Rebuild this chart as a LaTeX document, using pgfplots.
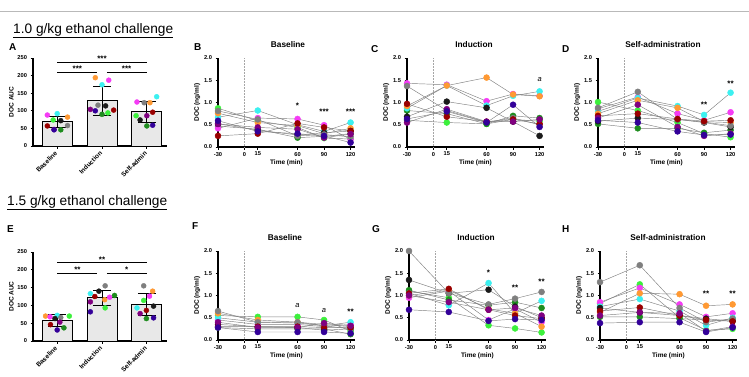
\documentclass[border=0pt]{standalone}
\usepackage{pgfplots}
\pgfplotsset{compat=1.18}
\usepackage{pgfplotstable}
\usepackage{fontspec}
\setmainfont{Liberation Sans}
\setsansfont{Liberation Sans}

\definecolor{cL}{HTML}{3CF03C}
\definecolor{cG}{HTML}{1E8C1E}
\definecolor{cM}{HTML}{F53CF5}
\definecolor{cC}{HTML}{3CF0F0}
\definecolor{cO}{HTML}{FF9933}
\definecolor{cK}{HTML}{1A1A1A}
\definecolor{cY}{HTML}{7F7F7F}
\definecolor{cR}{HTML}{990000}
\definecolor{cP}{HTML}{800080}
\definecolor{cI}{HTML}{330099}

\pgfplotstableread{
t   L    G    M    C    O    K    Y    R    P    I
-30 0.87 0.47 0.42 0.67 0.76 0.52 0.81 0.25 0.52 0.59
15  0.59 0.40 0.65 0.82 0.55 0.38 0.62 0.30 0.44 0.35
60  0.44 0.21 0.63 0.50 0.48 0.27 0.25 0.53 0.40 0.30
90  0.20 0.24 0.49 0.35 0.30 0.32 0.28 0.44 0.21 0.25
120 0.18 0.30 0.17 0.55 0.42 0.36 0.23 0.36 0.29 0.10
}\tB
\pgfplotstableread{
t   L    G    M    C    O    K    Y    R    P    I
-30 0.60 0.82 1.43 0.87 0.92 0.68 1.37 0.97 0.55 0.63
15  0.55 0.75 1.40 1.38 1.38 1.02 0.82 0.68 0.85 0.80
60  0.52 0.52 1.03 0.93 1.56 0.88 0.56 0.57 0.57 0.55
90  0.62 0.70 1.19 1.15 1.18 0.57 0.65 0.62 0.57 0.95
120 0.58 0.65 1.15 1.25 1.14 0.25 0.50 0.52 0.62 0.45
}\tC
\pgfplotstableread{
t   L    G    M    C    O    K    Y    R    P    I
-30 1.01 0.52 0.86 0.80 0.75 0.58 0.88 0.70 0.65 0.60
15  0.82 0.42 1.12 1.10 1.05 0.65 1.24 0.75 0.95 0.55
60  0.55 0.42 0.75 0.92 0.88 0.62 0.62 0.63 0.45 0.35
90  0.30 0.32 0.60 0.72 0.57 0.55 0.56 0.58 0.25 0.27
120 0.22 0.38 0.78 1.22 0.55 0.45 0.48 0.60 0.30 0.28
}\tD
\pgfplotstableread{
t   L    G    M    C    O    K    Y    R    P    I
-30 0.55 0.28 0.45 0.50 0.60 0.35 0.65 0.30 0.40 0.28
15  0.52 0.25 0.35 0.40 0.45 0.30 0.40 0.30 0.28 0.18
60  0.52 0.25 0.35 0.38 0.40 0.28 0.40 0.30 0.28 0.18
90  0.45 0.25 0.30 0.32 0.35 0.22 0.32 0.28 0.38 0.18
120 0.20 0.13 0.35 0.40 0.30 0.25 0.25 0.28 0.32 0.15
}\tF
\pgfplotstableread{
t   L    G    M    C    O    K    Y    R    P    I
-30 1.10 1.12 0.95 1.05 1.00 1.35 2.00 1.05 1.00 0.68
15  0.95 0.90 1.10 0.78 1.12 1.05 1.05 1.15 0.85 0.63
60  0.33 0.78 0.45 1.28 0.70 1.13 0.80 0.68 0.68 0.43
90  0.26 0.85 0.70 0.60 0.60 0.75 0.93 0.55 0.72 0.47
120 0.17 0.72 0.40 0.88 0.30 0.50 1.08 0.48 0.55 0.45
}\tG
\pgfplotstableread{
t   L    G    M    C    O    K    Y    R    P    I
-30 0.82 0.52 0.85 0.75 0.62 0.72 1.30 0.65 0.55 0.38
15  1.25 0.52 1.17 0.92 1.05 0.62 1.68 0.73 0.62 0.40
60  0.50 0.48 0.80 0.65 1.03 0.55 0.72 0.55 0.60 0.40
90  0.22 0.45 0.52 0.33 0.77 0.48 0.40 0.45 0.20 0.18
120 0.25 0.45 0.60 0.50 0.80 0.42 0.48 0.42 0.30 0.28
}\tH

\pgfplotsset{
  common/.style={scale only axis, anchor=south west, clip=false,
    axis lines=left, axis line style={-, line width=1.1pt, black},
    tick align=outside, major tick length=2.5pt,
    tick style={line width=0.9pt, black},
    ticklabel style={font=\bfseries\fontsize{5.7}{6}\selectfont},
    /pgf/number format/assume math mode=true,
    label style={font=\bfseries\fontsize{6.5}{7}\selectfont}},
  lineax/.style={common, width=137pt, height=89pt,
    xmin=-30, xmax=125, ymin=0, ymax=2,
    xtick={-30,0,15,60,90,120}, ytick={0,0.5,1,1.5,2},
    yticklabel style={/pgf/number format/.cd, fixed, fixed zerofill, precision=1},
    xticklabel style={yshift=1pt},
    xlabel={Time (min)}, ylabel={DOC (ng/ml)},
    xlabel style={yshift=3pt}, ylabel style={yshift=-3pt}},
  barax/.style={common, width=134pt, height=88pt,
    xmin=-0.54, xmax=2.45, ymin=0, ymax=250,
    ytick={0,50,...,250}, xtick={0,1,2},
    xticklabels={Baseline,Induction,Self-admin},
    xticklabel style={rotate=45, anchor=east, yshift=-2pt, font=\bfseries\fontsize{6.5}{7}\selectfont},
    ylabel={DOC AUC}, ylabel style={yshift=-3pt}},
  ser/.style={gray, line width=0.45pt, mark=*, mark size=3pt,
    mark options={fill=#1, draw=#1}},
  dot/.style={only marks, mark=*, mark size=2.5pt, mark options={fill=#1, draw=#1}},
}

\newcommand\linepanel[4]{%
  \begin{axis}[lineax, at={(#1pt,#2pt)}]
    \draw[densely dotted, gray!70, line width=0.5pt] (axis cs:0,0) -- (axis cs:0,2);
    \pgfplotsinvokeforeach{L,G,M,C,O,K,Y,R,P,I}{\addplot[ser=c##1] table[x=t,y=##1]{#3};}
    #4
  \end{axis}}

\tikzset{ttl/.style={font=\bfseries\fontsize{8.3}{9}\selectfont},
  lett/.style={font=\bfseries\fontsize{10}{11}\selectfont, anchor=north west, inner sep=0pt},
  head/.style={font=\fontsize{13.7}{15}\selectfont, anchor=base west, inner sep=0pt},
  ann/.style={font=\bfseries\fontsize{8}{8}\selectfont},
  anna/.style={font=\itshape\fontsize{7.5}{8}\selectfont}}

\begin{document}
\begin{tikzpicture}[x=1pt,y=1pt]
\path[use as bounding box] (0,0) rectangle (749,376);
\draw[gray!55, line width=0.8pt] (0,365) -- (749,365);

\node[head] at (13,343) {\underline{1.0 g/kg ethanol challenge}};
\node[head] at (7,171) {\underline{1.5 g/kg ethanol challenge}};

% ---- Panel A
\begin{axis}[barax, at={(33pt,230pt)}]
  \addplot[ybar, bar width=30pt, fill=gray!18, draw=black, line width=1pt,
    error bars/.cd, y dir=both, y explicit,
    error bar style={line width=1pt, black},
    error mark options={rotate=90, mark size=9pt, line width=1pt, black}]
    coordinates {(0,69) +- (0,16) (1,128) +- (0,41) (2,97) +- (0,30)};
  \addplot[dot=cM] coordinates {(-0.22,88) (1.15,187) (1.78,125)};
  \addplot[dot=cC] coordinates {(0.0,92) (1.0,174) (2.22,140)};
  \addplot[dot=cO] coordinates {(0.23,82) (0.85,194) (2.07,123)};
  \addplot[dot=cL] coordinates {(-0.09,74) (1.13,94) (1.76,86)};
  \addplot[dot=cK] coordinates {(0.08,72) (1.08,114) (1.85,74)};
  \addplot[dot=cY] coordinates {(0.23,58) (0.91,116) (1.94,123)};
  \addplot[dot=cR] coordinates {(-0.22,57) (1.26,102) (2.13,96)};
  \addplot[dot=cP] coordinates {(-0.07,47) (0.74,104) (2.0,86)};
  \addplot[dot=cI] coordinates {(-0.07,46) (0.85,100) (2.13,59)};
  \addplot[dot=cG] coordinates {(0.08,46) (1.0,90) (2.0,57)};
  \draw[line width=0.8pt] (axis cs:0,238) -- (axis cs:2,238);
  \draw[line width=0.8pt] (axis cs:0,210) -- (axis cs:0.89,210);
  \draw[line width=0.8pt] (axis cs:1.11,210) -- (axis cs:2,210);
  \node[ann] at (axis cs:1,247) {***};
  \node[ann] at (axis cs:0.45,219) {***};
  \node[ann] at (axis cs:1.55,219) {***};
\end{axis}

% ---- Panel E
\begin{axis}[barax, at={(33pt,35pt)}, height=89pt]
  \addplot[ybar, bar width=30pt, fill=gray!18, draw=black, line width=1pt,
    error bars/.cd, y dir=both, y explicit,
    error bar style={line width=1pt, black},
    error mark options={rotate=90, mark size=9pt, line width=1pt, black}]
    coordinates {(0,58) +- (0,17) (1,121) +- (0,21) (2,103) +- (0,30)};
  \addplot[dot=cO] coordinates {(-0.26,70) (1.06,116) (2.13,140)};
  \addplot[dot=cM] coordinates {(-0.16,68) (1.17,123) (2.06,126)};
  \addplot[dot=cC] coordinates {(0.0,72) (0.74,133) (1.78,93)};
  \addplot[dot=cL] coordinates {(0.27,70) (1.07,93) (1.93,114)};
  \addplot[dot=cK] coordinates {(-0.05,63) (0.93,140) (2.15,98)};
  \addplot[dot=cY] coordinates {(0.08,66) (1.07,155) (1.93,155)};
  \addplot[dot=cP] coordinates {(0.06,53) (0.74,110) (1.85,77)};
  \addplot[dot=cR] coordinates {(-0.15,46) (0.84,125) (1.99,86)};
  \addplot[dot=cG] coordinates {(0.15,37) (1.28,128) (1.99,63)};
  \addplot[dot=cI] coordinates {(0.0,31) (0.74,82) (2.15,65)};
  \draw[line width=0.8pt] (axis cs:0,220) -- (axis cs:2,220);
  \draw[line width=0.8pt] (axis cs:0,191) -- (axis cs:0.89,191);
  \draw[line width=0.8pt] (axis cs:1.11,191) -- (axis cs:2,191);
  \node[ann] at (axis cs:1,229) {**};
  \node[ann] at (axis cs:0.45,200) {**};
  \node[ann] at (axis cs:1.55,200) {*};
\end{axis}

\linepanel{218}{229}{\tB}{%
  \node[ann] at (axis cs:60,0.92) {*};
  \node[ann] at (axis cs:90,0.79) {***};
  \node[ann] at (axis cs:120,0.79) {***};}
\linepanel{407}{229}{\tC}{%
  \node[anna] at (axis cs:120,1.52) {a};}
\linepanel{598}{229}{\tD}{%
  \node[ann] at (axis cs:90,0.94) {**};
  \node[ann] at (axis cs:120,1.42) {**};}
\linepanel{218}{36}{\tF}{%
  \node[anna] at (axis cs:60,0.77) {a};
  \node[anna] at (axis cs:90,0.67) {a};
  \node[ann] at (axis cs:120,0.64) {**};}
\linepanel{409}{36}{\tG}{%
  \node[ann] at (axis cs:60,1.52) {*};
  \node[ann] at (axis cs:90,1.18) {**};
  \node[ann] at (axis cs:120,1.31) {**};}
\linepanel{600}{36}{\tH}{%
  \node[ann] at (axis cs:90,1.03) {**};
  \node[ann] at (axis cs:120,1.03) {**};}

\node[ttl] at (288,331) {Baseline};
\node[ttl] at (474,331) {Induction};
\node[ttl] at (663,331) {Self-administration};
\node[ttl] at (285,138) {Baseline};
\node[ttl] at (476,138) {Induction};
\node[ttl] at (668,138) {Self-administration};

\node[lett] at (9,333) {A};
\node[lett] at (194,333) {B};
\node[lett] at (371,331) {C};
\node[lett] at (562,331) {D};
\node[lett] at (7,151) {E};
\node[lett] at (192,154) {F};
\node[lett] at (372,151) {G};
\node[lett] at (562,151) {H};
\end{tikzpicture}
\end{document}
